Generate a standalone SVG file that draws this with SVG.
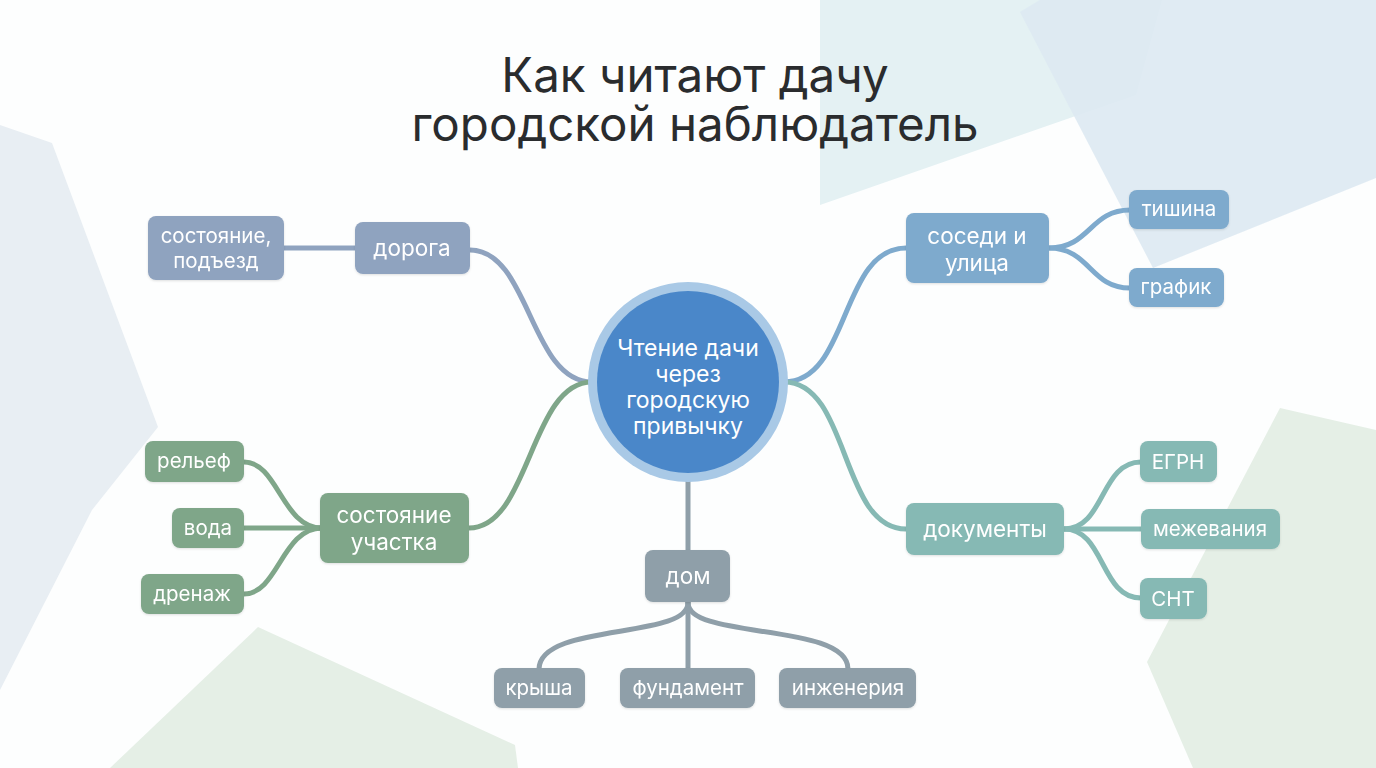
<svg xmlns="http://www.w3.org/2000/svg" width="1376" height="768" viewBox="0 0 1376 768">
<defs>
<style>
.t{font-family:Inter,"Noto Sans",sans-serif;fill:#ffffff;font-size:22.5px;text-anchor:middle}
.s{font-size:20.5px}
.m{font-size:23px}
.title{font-family:Inter,"Noto Sans",sans-serif;fill:#2a2c2e;font-size:47.5px;text-anchor:middle}
.c{fill:none;stroke-width:5;stroke-linecap:round}
.road{fill:#8fa3bf}.nb{fill:#7eaacd}.doc{fill:#86b9b4}.plot{fill:#7fa689}.house{fill:#8f9fa9}
</style>
<filter id="sh" x="-10%" y="-10%" width="120%" height="130%"><feDropShadow dx="0" dy="1" stdDeviation="1.2" flood-color="#000" flood-opacity="0.12"/></filter>
</defs>
<rect width="1376" height="768" fill="#fdfefe"/>
<g id="background">
<polygon points="820,0 1162,0 1136,95 820,205" fill="#e4f1f3"/>
<polygon points="1040,0 1376,0 1376,178 1153,268 1020,12" fill="#dde9f2" opacity="0.9"/>
<polygon points="0,125 52,143 158,427 92,510 0,690" fill="#e8eef3"/>
<polygon points="110,768 258,627 515,745 518,768" fill="#e5efe6"/>
<polygon points="1280,408 1376,430 1376,768 1193,768 1147,662" fill="#e5efe6"/>
</g>
<g id="title">
<text class="title"><tspan x="695" y="92">Как читают дачу</tspan><tspan x="695" y="141">городской наблюдатель</tspan></text>
</g>
<g id="connectors">
<path class="c" stroke="#8fa3bf" d="M284,248 L356,248"/>
<path class="c" stroke="#8fa3bf" d="M470,250 C530,250 530,382 592,382"/>
<path class="c" stroke="#7fa689" d="M469,528 C530,528 530,382 592,382"/>
<path class="c" stroke="#7eaacd" d="M784,382 C850,382 840,248 906,248"/>
<path class="c" stroke="#86b9b4" d="M784,382 C850,382 840,529 906,529"/>
<path class="c" stroke="#8f9fa9" d="M688,480 L688,551"/>
<path class="c" stroke="#7fa689" d="M244,462 C278,462 282,528 322,528"/>
<path class="c" stroke="#7fa689" d="M244,528 L322,528"/>
<path class="c" stroke="#7fa689" d="M244,594 C278,594 282,528 322,528"/>
<path class="c" stroke="#7eaacd" d="M1049,248 C1090,248 1090,210 1130,210"/>
<path class="c" stroke="#7eaacd" d="M1049,248 C1090,248 1090,288 1130,288"/>
<path class="c" stroke="#86b9b4" d="M1064,529 C1105,529 1100,462 1141,462"/>
<path class="c" stroke="#86b9b4" d="M1064,529 L1142,529"/>
<path class="c" stroke="#86b9b4" d="M1064,529 C1105,529 1100,598 1141,598"/>
<path class="c" stroke="#8f9fa9" d="M688,600 L688,669"/>
<path class="c" stroke="#8f9fa9" d="M688,602 C690,640 540,622 539,669"/>
<path class="c" stroke="#8f9fa9" d="M688,602 C686,640 848,622 848,669"/>
</g>
<g id="center">
<circle cx="688" cy="382" r="100" fill="#a9c9e6"/>
<circle cx="688" cy="382" r="91" fill="#4a87c9"/>
<text class="t m" x="688" y="356">Чтение дачи</text>
<text class="t m" x="688" y="382">через</text>
<text class="t m" x="688" y="408">городскую</text>
<text class="t m" x="688" y="434">привычку</text>
</g>
<g id="road" filter="url(#sh)">
<rect class="road" x="355" y="222" width="115" height="52" rx="8"/>
<text class="t" x="412" y="256">дорога</text>
</g>
<g id="road-state" filter="url(#sh)">
<rect class="road" x="148" y="216" width="136" height="64" rx="8"/>
<text class="t s" x="216" y="243">состояние,</text>
<text class="t s" x="216" y="268">подъезд</text>
</g>
<g id="neighbors" filter="url(#sh)">
<rect class="nb" x="906" y="213" width="143" height="70" rx="8"/>
<text class="t" x="977" y="244">соседи и</text>
<text class="t" x="977" y="271">улица</text>
</g>
<g id="silence" filter="url(#sh)">
<rect class="nb" x="1129" y="190" width="100" height="39" rx="8"/>
<text class="t s" x="1179" y="216">тишина</text>
</g>
<g id="schedule" filter="url(#sh)">
<rect class="nb" x="1129" y="268" width="95" height="39" rx="8"/>
<text class="t s" x="1176" y="294">график</text>
</g>
<g id="docs" filter="url(#sh)">
<rect class="doc" x="906" y="503" width="158" height="52" rx="8"/>
<text class="t" x="985" y="537">документы</text>
</g>
<g id="egrn" filter="url(#sh)">
<rect class="doc" x="1140" y="441" width="77" height="41" rx="8"/>
<text class="t s" x="1178" y="469">ЕГРН</text>
</g>
<g id="survey" filter="url(#sh)">
<rect class="doc" x="1141" y="509" width="139" height="40" rx="8"/>
<text class="t s" x="1210" y="536">межевания</text>
</g>
<g id="snt" filter="url(#sh)">
<rect class="doc" x="1140" y="578" width="67" height="41" rx="8"/>
<text class="t s" x="1173" y="606">СНТ</text>
</g>
<g id="plot" filter="url(#sh)">
<rect class="plot" x="320" y="493" width="149" height="70" rx="8"/>
<text class="t" x="394" y="523">состояние</text>
<text class="t" x="394" y="550">участка</text>
</g>
<g id="relief" filter="url(#sh)">
<rect class="plot" x="145" y="441" width="99" height="41" rx="8"/>
<text class="t s" x="194" y="468">рельеф</text>
</g>
<g id="water" filter="url(#sh)">
<rect class="plot" x="172" y="508" width="72" height="40" rx="8"/>
<text class="t s" x="208" y="535">вода</text>
</g>
<g id="drainage" filter="url(#sh)">
<rect class="plot" x="141" y="574" width="103" height="40" rx="8"/>
<text class="t s" x="192" y="601">дренаж</text>
</g>
<g id="house" filter="url(#sh)">
<rect class="house" x="645" y="550" width="85" height="52" rx="8"/>
<text class="t" x="688" y="584">дом</text>
</g>
<g id="roof" filter="url(#sh)">
<rect class="house" x="494" y="668" width="91" height="40" rx="8"/>
<text class="t s" x="539" y="695">крыша</text>
</g>
<g id="foundation" filter="url(#sh)">
<rect class="house" x="620" y="668" width="135" height="40" rx="8"/>
<text class="t s" x="688" y="695">фундамент</text>
</g>
<g id="engineering" filter="url(#sh)">
<rect class="house" x="779" y="668" width="137" height="40" rx="8"/>
<text class="t s" x="848" y="695">инженерия</text>
</g>
</svg>
